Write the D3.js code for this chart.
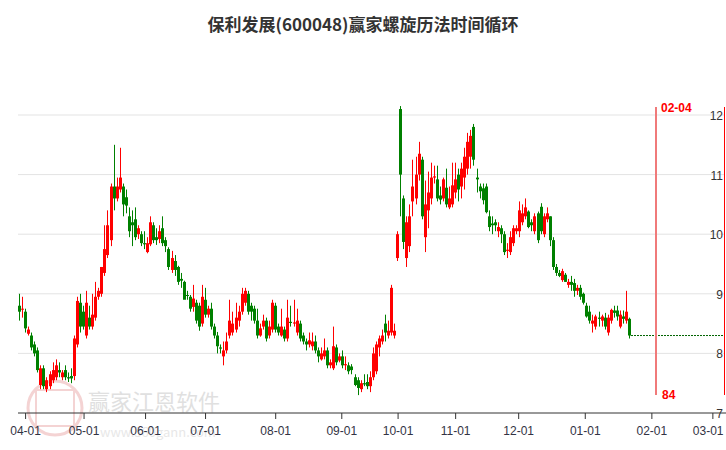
<!DOCTYPE html>
<html><head><meta charset="utf-8">
<script src="https://cdn.jsdelivr.net/npm/d3@7.9.0/dist/d3.min.js"></script>
<style>body{margin:0;background:#fff}svg{display:block;font-family:"Microsoft YaHei","Noto Sans CJK SC",Arial,sans-serif}</style>
</head><body><svg id="chart"></svg>
<script>
const title = '保利发展(600048)赢家螺旋历法时间循环';
const yTicks = [7, 8, 9, 10, 11, 12];
const xTicks = ['2024-04-01','2024-05-01','2024-06-01','2024-07-01','2024-08-01','2024-09-01','2024-10-01','2024-11-01','2024-12-01','2025-01-01','2025-02-01','2025-03-01'];
const holidays = ['2024-04-04','2024-04-05','2024-05-01','2024-05-02','2024-05-03','2024-06-10','2024-09-16','2024-09-17','2024-10-01','2024-10-02','2024-10-03','2024-10-04','2024-10-07','2025-01-01'];
const firstDay = '2024-03-28';
const lastAxisDay = '2025-03-05';
const cycleDate = '2025-02-04';
const cycleLabel = '84';

// one row per trading day: open, high, low, close
const opens = [
 8.8,8.75,
 8.7,8.33,8.3,8.15,8.05,7.47,7.75,7.4,7.45,7.55,7.6,7.72,7.6,7.72,7.6,7.62,7.62,8.15,8.85,8.7,
 8.3,8.6,8.45,8.6,8.95,9.0,9.35,9.65,9.9,10.8,10.6,10.75,10.8,10.62,10.3,10.2,10.25,10.0,10.0,
 9.85,9.7,9.83,10.15,9.95,9.92,10.1,9.9,9.75,9.4,9.55,9.45,9.25,9.2,8.98,8.95,8.78,8.85,8.8,8.5,
 8.9,8.65,8.75,8.45,8.3,8.1,7.95,8.05,8.3,8.35,8.4,8.55,8.7,8.85,9.0,8.8,8.75,8.55,8.3,8.45,8.55,8.3,8.4,
 8.8,8.45,8.3,8.4,8.25,8.53,8.5,8.35,8.5,8.3,8.2,8.15,8.12,8.2,8.05,7.9,7.95,8.05,7.8,7.75,8.1,7.88,
 7.95,7.8,7.8,7.78,7.6,7.55,7.4,7.5,7.52,7.45,7.6,7.7,8.1,8.2,8.5,8.3,8.35,8.3,9.6,
 12.1,10.6,9.6,9.8,10.55,10.6,11.0,11.25,9.95,10.4,10.6,10.95,10.92,10.65,10.6,10.78,10.45,10.5,
 10.7,11.0,10.8,10.95,11.1,11.3,11.8,10.95,10.8,10.77,10.8,10.3,10.18,10.2,10.05,10.1,10.0,9.72,9.7,9.85,
 10.05,10.05,10.2,10.3,10.38,10.2,10.05,10.35,10.46,10.0,10.25,10.3,9.9,9.45,9.35,9.23,9.32,9.15,9.2,9.18,9.05,9.1,9.0,
 8.8,8.7,8.5,8.45,8.6,8.55,8.6,8.35,8.55,8.72,8.72,8.45,8.62,8.55,8.58
];
const highs = [
 9.0,8.95,
 8.75,8.45,8.35,8.2,8.1,7.8,7.8,7.6,7.7,7.85,7.9,7.85,7.72,7.8,7.68,7.75,8.3,8.95,9.0,8.8,
 9.05,8.8,9.0,9.2,9.1,9.45,10.15,10.4,10.85,11.5,10.95,11.45,10.85,10.75,10.45,10.4,10.45,10.15,10.05,
 10.05,9.95,10.3,10.2,10.1,10.15,10.3,9.95,9.78,9.72,9.65,9.47,9.35,9.22,9.05,8.98,9.15,8.9,8.85,9.15,
 9.1,8.8,8.85,8.5,8.36,8.15,8.2,8.35,8.9,8.7,8.85,8.8,9.1,9.1,9.05,8.85,8.8,8.75,8.5,8.65,8.6,8.55,8.9,
 8.85,8.5,8.75,8.45,8.9,8.8,8.9,8.75,8.55,8.35,8.25,8.35,8.35,8.3,8.1,8.1,8.25,8.1,7.9,8.45,8.15,8.0,
 8.05,7.95,7.85,7.82,7.65,7.6,7.55,7.65,7.65,7.7,8.1,8.2,8.3,8.4,8.65,8.55,9.15,8.5,10.05,
 12.15,10.65,10.3,10.5,11.25,11.3,11.55,11.3,10.9,11.05,11.2,11.15,11.15,10.8,10.95,11.1,10.8,11.2,
 11.2,11.1,11.2,11.45,11.7,11.75,11.85,11.1,10.85,10.85,10.85,10.4,10.3,10.25,10.2,10.15,10.05,9.85,10.05,10.15,
 10.15,10.55,10.5,10.6,10.4,10.25,10.35,10.38,10.52,10.35,10.45,10.3,9.95,9.5,9.4,9.42,9.35,9.25,9.3,9.25,9.15,9.15,9.02,
 8.85,8.8,8.65,8.65,8.7,8.65,8.68,8.65,8.75,8.8,8.8,8.72,8.72,9.05,8.6
];
const lows = [
 8.55,8.6,
 8.35,8.3,8.05,7.95,7.68,7.4,7.4,7.35,7.4,7.5,7.55,7.6,7.55,7.55,7.52,7.5,7.55,8.1,8.35,8.4,
 8.25,8.4,8.4,8.55,8.9,8.95,9.3,9.6,9.8,10.4,10.55,10.7,10.3,10.35,9.95,9.8,9.9,9.92,9.8,
 9.75,9.68,9.8,9.85,9.82,9.85,9.8,9.7,9.4,9.35,9.3,9.15,9.1,8.92,8.9,8.7,8.7,8.5,8.38,8.45,
 8.6,8.6,8.4,8.25,8.0,8.0,7.8,8.0,8.25,8.3,8.35,8.45,8.65,8.8,8.65,8.55,8.5,8.25,8.28,8.4,8.2,8.25,8.35,
 8.35,8.3,8.28,8.2,8.2,8.45,8.45,8.3,8.2,8.15,8.05,8.1,8.05,8.0,7.85,7.88,7.9,7.75,7.75,7.72,7.8,7.85,
 7.75,7.72,7.65,7.65,7.45,7.3,7.35,7.45,7.4,7.35,7.55,7.65,7.95,8.15,8.2,8.25,8.3,8.25,9.55,
 10.3,9.75,9.45,9.7,10.3,10.5,10.9,10.25,9.7,10.1,10.5,10.85,10.55,10.5,10.55,10.45,10.42,10.45,
 10.6,10.55,10.6,10.75,11.0,11.1,11.15,10.7,10.6,10.5,10.35,10.05,10.0,10.05,9.95,9.85,9.65,9.6,9.65,9.8,
 10.0,9.95,10.15,10.25,10.1,10.05,10.0,9.85,10.0,9.95,10.2,9.8,9.4,9.3,9.28,9.2,9.2,9.1,9.05,8.95,8.98,8.9,8.82,
 8.6,8.5,8.35,8.4,8.45,8.45,8.4,8.3,8.5,8.6,8.55,8.42,8.5,8.5,8.25
];
const closes = [
 8.7,8.75,
 8.42,8.4,8.1,8.0,7.72,7.75,7.45,7.55,7.65,7.72,7.8,7.68,7.68,7.6,7.58,7.58,8.25,8.88,8.45,8.45,
 8.85,8.45,8.65,8.95,9.05,9.45,9.75,10.15,10.8,10.6,10.8,10.95,10.5,10.48,10.05,10.15,9.95,10.1,9.85,
 9.83,9.85,10.2,9.9,9.9,10.05,9.85,9.8,9.45,9.6,9.4,9.2,9.22,8.9,8.97,8.75,8.92,8.55,8.45,8.95,
 8.65,8.75,8.45,8.3,8.12,8.08,8.05,8.2,8.55,8.5,8.6,8.7,9.0,9.05,8.7,8.7,8.55,8.3,8.42,8.55,8.25,8.45,8.85,
 8.4,8.35,8.45,8.25,8.6,8.51,8.52,8.55,8.25,8.2,8.15,8.22,8.2,8.05,7.95,8.0,8.05,7.8,7.85,8.12,7.85,7.95,
 7.8,7.82,7.7,7.72,7.47,7.42,7.5,7.48,7.45,7.6,8.0,8.15,8.25,8.3,8.35,8.38,9.1,8.38,10.0,
 11.0,9.87,10.2,10.3,10.8,11.0,11.35,10.3,10.5,10.7,10.95,10.97,10.6,10.58,10.92,10.5,10.6,10.82,
 10.92,10.75,11.1,11.3,11.55,11.65,11.25,10.92,10.72,10.57,10.37,10.12,10.15,10.15,10.12,10.0,9.7,9.74,9.95,10.1,
 10.1,10.4,10.35,10.45,10.12,10.15,10.3,9.9,10.05,10.3,10.35,9.9,9.45,9.35,9.3,9.38,9.2,9.2,9.15,9.05,9.1,8.95,8.85,
 8.62,8.55,8.55,8.62,8.58,8.62,8.45,8.6,8.73,8.68,8.62,8.65,8.58,8.7,8.3
];

const W = 726, H = 450;
const svg = d3.select('#chart').attr('width', W).attr('height', H);
const parse = d3.timeParse('%Y-%m-%d');
const fmt = d3.timeFormat('%Y-%m-%d');

// trading calendar: weekdays minus exchange holidays, then plain weekdays for the future part
const days = [];
let d = parse(firstDay);
const endDay = parse(lastAxisDay);
while (d <= endDay) {
  const wd = d.getDay();
  const future = days.length >= closes.length;
  if (wd !== 0 && wd !== 6 && (future || !holidays.includes(fmt(d)))) days.push(new Date(d));
  d = d3.timeDay.offset(d, 1);
}
// fractional bar index of any date
function dayIndex(date) {
  const i = d3.bisectLeft(days, date);
  if (i === 0) return 0;
  if (+days[i] === +date) return i;
  const a = days[i - 1], b = days[i];
  return i - 1 + (date - a) / (b - a);
}

const x = d3.scaleLinear().domain([0, 100]).range([19, 324]);
const y = d3.scaleLinear().domain([7, 12]).range([413, 115]);

svg.append('text').attr('x', W / 2).attr('y', 31).attr('text-anchor', 'middle')
  .attr('font-size', 17).attr('font-weight', 'bold').attr('fill', '#333').text(title);

svg.append('g').selectAll('line').data(yTicks.filter(v => v > 7)).join('line')
  .attr('x1', 18).attr('x2', 724).attr('y1', v => y(v)).attr('y2', v => y(v))
  .attr('stroke', '#e3e3e3').attr('stroke-width', 1);

// watermark
const wm = svg.append('g').attr('opacity', 0.45);
wm.append('circle').attr('cx', 55).attr('cy', 408).attr('r', 27).attr('fill', 'none').attr('stroke', '#e8a0a0').attr('stroke-width', 3);
wm.append('rect').attr('x', 36).attr('y', 390).attr('width', 38).attr('height', 36).attr('fill', 'none').attr('stroke', '#e8a0a0').attr('stroke-width', 2);
wm.append('text').attr('x', 88).attr('y', 410).attr('font-size', 22).attr('fill', '#bbb').text('赢家江恩软件');
wm.append('text').attr('x', 100).attr('y', 437).attr('font-size', 13).attr('fill', '#ccc').text('www.360gann.com');

svg.append('g').selectAll('text').data(yTicks).join('text')
  .attr('x', 723).attr('y', v => y(v) + 5).attr('text-anchor', 'end')
  .attr('font-size', 12).attr('font-family', 'Arial, sans-serif').attr('fill', '#333').text(v => v);

const tickIdx = xTicks.map(t => dayIndex(parse(t)));
const xa = svg.append('g').attr('transform', 'translate(0,413)')
  .call(d3.axisBottom(x).tickValues(tickIdx).tickFormat((v, i) => xTicks[i].slice(5)).tickSizeOuter(0).tickSize(6));
xa.select('.domain').attr('stroke', '#333').attr('d', 'M18,0H726');
xa.selectAll('.tick line').attr('stroke', '#333');
xa.selectAll('.tick text').attr('font-size', 12).attr('font-family', 'Arial, sans-serif').attr('fill', '#334').attr('dy', '1.1em');
xa.selectAll('.tick text').filter((v, i) => i === xTicks.length - 1).attr('text-anchor', 'end').attr('x', 723 - x(tickIdx[tickIdx.length - 1]));

// candles
const idx = d3.range(closes.length);
const col = i => closes[i] >= opens[i] ? '#ff0000' : '#008000';
const cg = svg.append('g');
cg.selectAll('line').data(idx).join('line')
  .attr('x1', i => Math.round(x(i)) + 0.5).attr('x2', i => Math.round(x(i)) + 0.5)
  .attr('y1', i => y(highs[i])).attr('y2', i => y(lows[i])).attr('stroke', col);
cg.selectAll('rect').data(idx).join('rect')
  .attr('x', i => Math.round(x(i)) - 1).attr('width', 3)
  .attr('y', i => y(Math.max(opens[i], closes[i])))
  .attr('height', i => Math.max(1, Math.abs(y(opens[i]) - y(closes[i]))))
  .attr('fill', col);

const last = closes.length - 1;
svg.append('line').attr('x1', x(last) + 2).attr('x2', 724)
  .attr('y1', y(closes[last])).attr('y2', y(closes[last]))
  .attr('stroke', '#006400').attr('stroke-dasharray', '2,1');

// cycle marker
const cx = Math.round(x(dayIndex(parse(cycleDate))));
svg.append('line').attr('x1', cx).attr('x2', cx).attr('y1', 107).attr('y2', 395)
  .attr('stroke', '#f07a7a').attr('stroke-width', 2);
svg.append('line').attr('x1', 724.5).attr('x2', 724.5).attr('y1', 107).attr('y2', 395)
  .attr('stroke', '#ff0000').attr('stroke-width', 1);
svg.append('text').attr('x', cx + 5).attr('y', 112).attr('font-size', 12).attr('font-weight', 'bold')
  .attr('font-family', 'Arial, sans-serif').attr('fill', '#ff0000').text(cycleDate.slice(5));
svg.append('text').attr('x', cx + 6).attr('y', 399).attr('font-size', 12).attr('font-weight', 'bold')
  .attr('font-family', 'Arial, sans-serif').attr('fill', '#ff0000').text(cycleLabel);
</script></body></html>
